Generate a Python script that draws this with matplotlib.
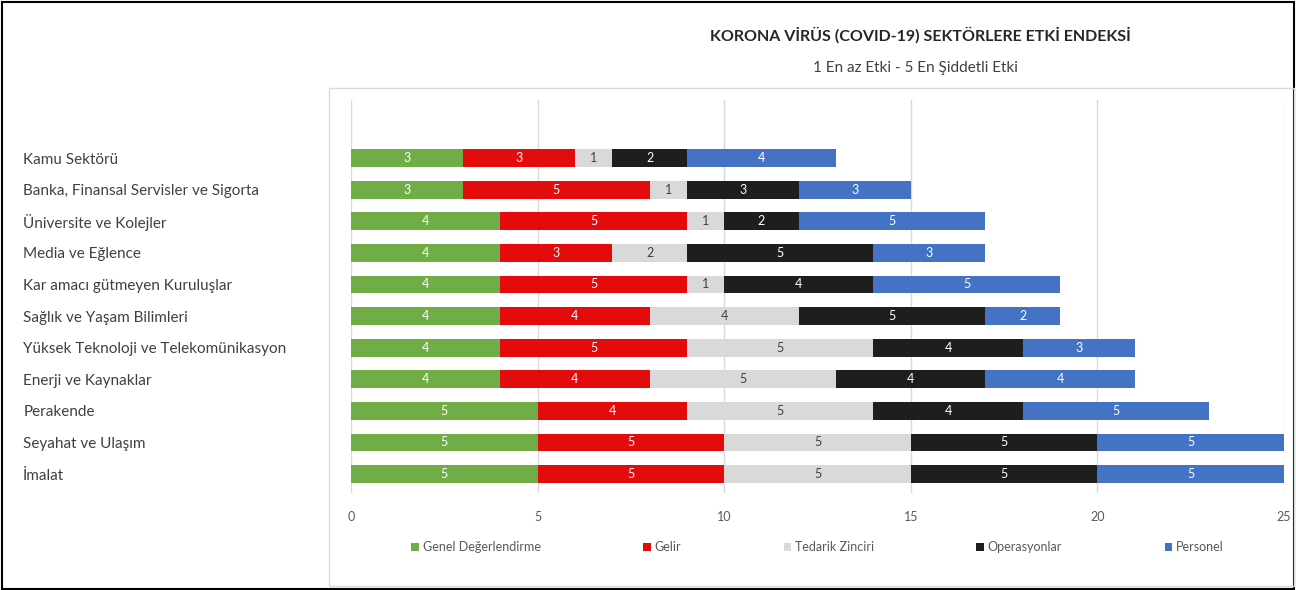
import numpy as np
import matplotlib.pyplot as plt
from matplotlib.patches import Rectangle

plt.rcParams['font.family'] = ['Lato', 'DejaVu Sans']

# sectors, top to bottom
sectors = ['Kamu Sektörü', 'Banka, Finansal Servisler ve Sigorta', 'Üniversite ve Kolejler',
           'Media ve Eğlence', 'Kar amacı gütmeyen Kuruluşlar', 'Sağlık ve Yaşam Bilimleri',
           'Yüksek Teknoloji ve Telekomünikasyon', 'Enerji ve Kaynaklar', 'Perakende',
           'Seyahat ve Ulaşım', 'İmalat']

series_names = ['Genel Değerlendirme', 'Gelir', 'Tedarik Zinciri', 'Operasyonlar', 'Personel']
genel = [3, 3, 4, 4, 4, 4, 4, 4, 5, 5, 5]
gelir = [3, 5, 5, 3, 5, 4, 5, 4, 4, 5, 5]
tedarik = [1, 1, 1, 2, 1, 4, 5, 5, 5, 5, 5]
operasyon = [2, 3, 2, 5, 4, 5, 4, 4, 4, 5, 5]
personel = [4, 3, 5, 3, 5, 2, 3, 4, 5, 5, 5]
x_ticks = [0, 5, 10, 15, 20, 25]

colors = ['#70AD47', '#E30B0B', '#D9D9D9', '#1E1E1E', '#4472C4']
text_colors = ['white', 'white', '#404040', 'white', 'white']

W, H = 1296, 590
fig = plt.figure(figsize=(W / 100, H / 100), dpi=100)

# outer frame and chart area frame
fig.patches.append(Rectangle((2 / W, 1 / H), 1 - 4 / W, 1 - 3 / H, transform=fig.transFigure,
                             fill=False, edgecolor='black', linewidth=1.5))
fig.patches.append(Rectangle((329 / W, 4 / H), (W - 331) / W, (H - 92) / H, transform=fig.transFigure,
                             fill=False, edgecolor='#D9D9D9', linewidth=1))

ax = fig.add_axes([351 / W, 1 - 493 / H, (1284 - 351) / W, (493 - 100) / H])

y = np.arange(len(sectors))
left = np.zeros(len(sectors))
for name, vals, c, tc in zip(series_names, [genel, gelir, tedarik, operasyon, personel], colors, text_colors):
    bars = ax.barh(y, vals, left=left, height=0.56, color=c, label=name)
    ax.bar_label(bars, labels=[str(v) for v in vals], label_type='center', color=tc, fontsize=9)
    left += np.array(vals)

ax.set_xlim(0, 25)
ax.set_ylim(10.6, -1.84)
ax.set_xticks(x_ticks)
ax.set_xticklabels([str(t) for t in x_ticks], color='#595959', fontsize=9)
ax.set_yticks(y)
ax.set_yticklabels(sectors, ha='left', color='#404040', fontsize=11)
ax.tick_params(axis='y', length=0, pad=236)
ax.tick_params(axis='x', length=0, pad=13)
ax.grid(axis='x', color='#D9D9D9', linewidth=1)
ax.set_axisbelow(True)
for s in ax.spines.values():
    s.set_visible(False)

fig.text(920 / W, 1 - 35 / H, 'KORONA VİRÜS (COVID-19) SEKTÖRLERE ETKİ ENDEKSİ', ha='center', va='center',
         fontsize=11.5, fontweight='bold', color='#262626')
fig.text(915 / W, 1 - 68 / H, '1 En az Etki - 5 En Şiddetli Etki', ha='center', va='center',
         fontsize=11, color='#404040')

leg = ax.legend(loc='center', bbox_to_anchor=(0.5, -(547 - 493) / (493 - 100)), ncol=5, frameon=False,
                fontsize=9, handlelength=0.6, handleheight=0.6, handletextpad=0.3, columnspacing=8.2,
                labelcolor='#595959')

fig.savefig('out.png', dpi=100)
